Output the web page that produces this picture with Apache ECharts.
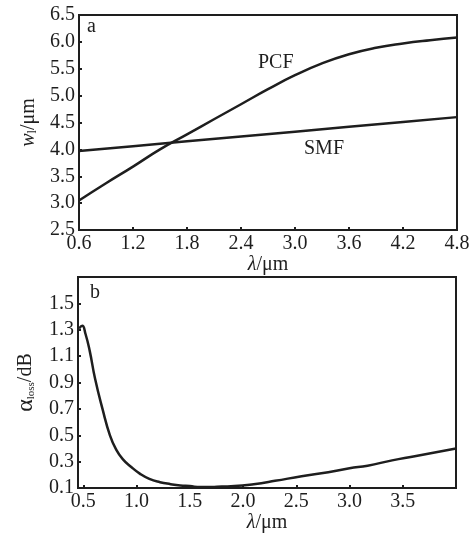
<!DOCTYPE html>
<html>
<head>
<meta charset="utf-8">
<script src="https://cdn.jsdelivr.net/npm/echarts@6/dist/echarts.min.js"></script>
<style>
  html, body { margin: 0; padding: 0; background: #fff; }
  #main { width: 475px; height: 534px; }
</style>
</head>
<body>
<div id="main"></div>
<script>
// panel a: mode field radius vs wavelength
var lambdaPCF = [0.6, 0.9, 1.2, 1.5, 1.8, 2.1, 2.4, 2.7, 3.0, 3.3, 3.6, 3.9, 4.2, 4.5, 4.8];
var wPCF      = [3.05, 3.37, 3.68, 4.0, 4.28, 4.56, 4.84, 5.12, 5.38, 5.6, 5.77, 5.89, 5.97, 6.03, 6.08];
var lambdaSMF = [0.6, 1.2, 1.8, 2.4, 3.0, 3.6, 4.2, 4.8];
var wSMF      = [3.97, 4.06, 4.15, 4.24, 4.33, 4.42, 4.51, 4.6];

// panel b: loss vs wavelength
var lambdaLoss = [0.46, 0.49, 0.52, 0.56, 0.61, 0.68, 0.75, 0.81, 0.87, 0.95, 1.03, 1.12, 1.22, 1.32,
                  1.41, 1.5, 1.6, 1.7, 1.8, 1.92, 2.1, 2.3, 2.55, 2.8, 3.0, 3.17, 3.4, 3.6, 3.8, 4.0];
var loss       = [1.31, 1.33, 1.27, 1.14, 0.93, 0.7, 0.5, 0.39, 0.32, 0.26, 0.21, 0.17, 0.145, 0.13,
                  0.12, 0.115, 0.108, 0.108, 0.112, 0.115, 0.13, 0.155, 0.19, 0.22, 0.25, 0.27, 0.31, 0.34, 0.37, 0.4];

var bTicksX = [0.5, 1.0, 1.5, 2.0, 2.5, 3.0, 3.5];
var bTicksY = [0.1, 0.3, 0.5, 0.7, 0.9, 1.1, 1.3, 1.5];

function pairs(xs, ys) {
  return xs.map(function (x, i) { return [x, ys[i]]; });
}

var ink = '#1e1e1e';
var font = 'Liberation Serif';

var axisCommon = {
  axisLine: { show: true, lineStyle: { color: ink, width: 2 } },
  axisTick: { show: true, inside: true, length: 3, lineStyle: { color: ink, width: 2 } },
  splitLine: { show: false },
  axisLabel: { color: ink, fontFamily: font, fontSize: 20, margin: 4 },
  nameTextStyle: { color: ink, fontFamily: font, fontSize: 20 }
};

function ax(extra) {
  var o = JSON.parse(JSON.stringify(axisCommon));
  for (var k in extra) {
    if (typeof extra[k] === 'object' && o[k] && !Array.isArray(extra[k])) {
      for (var j in extra[k]) o[k][j] = extra[k][j];
    } else {
      o[k] = extra[k];
    }
  }
  return o;
}

var lamRich = {
  l: { fontFamily: font, fontSize: 20, fontStyle: 'italic', color: ink },
  u: { fontFamily: font, fontSize: 20, color: ink }
};

var myChart = echarts.init(document.getElementById('main'));

var option = {
  backgroundColor: '#fff',
  animation: false,
  grid: [
    { left: 79, right: 18, top: 15, height: 215, show: true, borderColor: ink, borderWidth: 2 },
    { left: 78, right: 19, top: 277, height: 212, show: true, borderColor: ink, borderWidth: 2 }
  ],
  xAxis: [
    ax({
      type: 'value', gridIndex: 0, min: 0.6, max: 4.8, interval: 0.6,
      axisLabel: { formatter: function (v) { return v.toFixed(1); } },
      name: '{l|λ}{u|/μm}', nameLocation: 'middle', nameGap: 19,
      nameTextStyle: { rich: lamRich }
    }),
    ax({
      type: 'value', gridIndex: 1, min: 0.45, max: 4.0,
      axisLabel: { customValues: bTicksX, formatter: function (v) { return v.toFixed(1); } },
      axisTick: { customValues: bTicksX },
      name: '{l|λ}{u|/μm}', nameLocation: 'middle', nameGap: 21,
      nameTextStyle: { rich: lamRich }
    })
  ],
  yAxis: [
    ax({
      type: 'value', gridIndex: 0, min: 2.5, max: 6.5, interval: 0.5,
      axisLabel: { formatter: function (v) { return v.toFixed(1); } },
      name: '{it|w}{sub|l}/μm', nameLocation: 'middle', nameGap: 30, nameRotate: 90,
      nameTextStyle: {
        rich: {
          it: { fontFamily: font, fontSize: 20, fontStyle: 'italic', color: ink },
          sub: { fontFamily: font, fontSize: 12, color: ink, padding: [8, 0, 0, 0] }
        }
      }
    }),
    ax({
      type: 'value', gridIndex: 1, min: 0.1, max: 1.7,
      axisLabel: { customValues: bTicksY, formatter: function (v) { return v.toFixed(1); } },
      axisTick: { customValues: bTicksY },
      name: '{a|α}{sub|loss}/dB', nameLocation: 'middle', nameGap: 36, nameRotate: 90,
      nameTextStyle: {
        rich: {
          a: { fontFamily: font, fontSize: 24, color: ink },
          sub: { fontFamily: font, fontSize: 11, color: ink, padding: [10, 0, 0, 0] }
        }
      }
    })
  ],
  graphic: [
    { type: 'text', left: 87, top: 17, style: { text: 'a', font: '20px "Liberation Serif"', fill: ink } },
    { type: 'text', left: 258, top: 53, style: { text: 'PCF', font: '20px "Liberation Serif"', fill: ink } },
    { type: 'text', left: 304, top: 139, style: { text: 'SMF', font: '20px "Liberation Serif"', fill: ink } },
    { type: 'text', left: 90, top: 283, style: { text: 'b', font: '20px "Liberation Serif"', fill: ink } }
  ],
  series: [
    {
      name: 'PCF', type: 'line', xAxisIndex: 0, yAxisIndex: 0,
      data: pairs(lambdaPCF, wPCF), smooth: true, symbol: 'none',
      lineStyle: { color: ink, width: 2.5 }
    },
    {
      name: 'SMF', type: 'line', xAxisIndex: 0, yAxisIndex: 0,
      data: pairs(lambdaSMF, wSMF), symbol: 'none',
      lineStyle: { color: ink, width: 2.5 }
    },
    {
      name: 'loss', type: 'line', xAxisIndex: 1, yAxisIndex: 1,
      data: pairs(lambdaLoss, loss), smooth: true, symbol: 'none',
      lineStyle: { color: ink, width: 2.5 }
    }
  ]
};

myChart.setOption(option);
</script>
</body>
</html>
